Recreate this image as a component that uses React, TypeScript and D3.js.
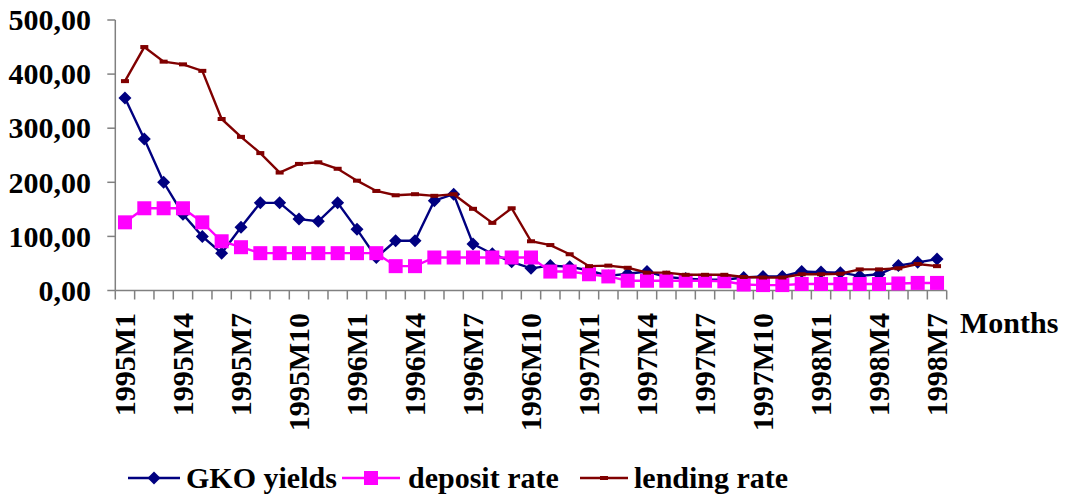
import React from "react";
import * as d3 from "d3";

const months: string[] = (() => {
  const out: string[] = [];
  const years = ["1995", "1996", "1997", "1998"];
  for (const y of years) {
    for (let m = 1; m <= 12; m++) {
      if (y === "1998" && m > 7) break;
      out.push(`${y}M${m}`);
    }
  }
  return out;
})();

const gkoYields = [356, 280, 200, 141, 100, 69, 117, 162, 162, 132, 128, 162, 113, 61, 92, 92,
  166, 178, 86, 68, 53, 41, 46, 44, 37, 27, 31, 35, 25, 22, 20, 20,
  24, 26, 26, 35, 34, 33, 27, 30, 46, 52, 58];
const depositRate = [126, 152, 152, 152, 126, 91, 80, 69, 69, 69, 69, 69, 69, 69, 45, 45,
  61, 61, 61, 61, 61, 61, 35, 35, 30, 26, 18, 18, 18, 18, 18, 17,
  11, 10, 10, 12, 12, 12, 12, 12, 13, 14, 14];
const lendingRate = [387, 450, 423, 418, 406, 317, 284, 254, 218, 234, 237, 225, 203, 184, 176, 178,
  175, 178, 151, 125, 152, 91, 84, 67, 45, 46, 42, 33, 33, 29, 29, 29,
  25, 24, 24, 30, 30, 31, 39, 39, 41, 49, 45];
const yTicks = [0, 100, 200, 300, 400, 500];
const seriesNames = ["GKO yields", "deposit rate", "lending rate"];

const FONT = "'Liberation Serif', 'Times New Roman', serif";

export default function App() {
  const width = 1065, height = 499;
  const x0 = 115.3, x1 = 946.7, yTop = 20, yBot = 290.5;
  const x = d3.scaleBand<number>().domain(months.map((_, i) => i)).range([x0, x1]).padding(0);
  const cx = (i: number) => (x(i) as number) + x.bandwidth() / 2;
  const y = d3.scaleLinear().domain([0, 500]).range([yBot, yTop]);
  const line = d3.line<number>().x((_, i) => cx(i)).y((d) => y(d));
  const fmt = (v: number) => v.toFixed(2).replace(".", ",");

  const diamond = (px: number, py: number, r: number) =>
    `M${px},${py - r}L${px + r},${py}L${px},${py + r}L${px - r},${py}Z`;

  const axisColor = "#808080";
  const navy = "#000080", magenta = "#FF00FF", maroon = "#800000";
  const fs = 30;

  const edges = d3.range(months.length + 1).map((i) => x0 + i * x.bandwidth());

  const legendY = 478;

  return (
    <svg width={width} height={height} style={{ position: "absolute", left: 0, top: 0, background: "#fff" }}
      fontFamily={FONT}>
      {/* y axis */}
      <line x1={x0} x2={x0} y1={yTop} y2={yBot} stroke={axisColor} strokeWidth={1.5} />
      {yTicks.map((t) => (
        <g key={t}>
          <line x1={x0 - 8} x2={x0} y1={y(t)} y2={y(t)} stroke={axisColor} strokeWidth={1.5} />
          <text x={91} y={y(t)} dy="0.34em" textAnchor="end" fontSize={fs} fontWeight="bold">{fmt(t)}</text>
        </g>
      ))}
      {/* x axis */}
      <line x1={x0} x2={x1} y1={yBot} y2={yBot} stroke={axisColor} strokeWidth={1.5} />
      {edges.map((e, i) => (
        <line key={i} x1={e} x2={e} y1={yBot} y2={yBot + 9} stroke={axisColor} strokeWidth={1.5} />
      ))}
      {months.map((m, i) => i % 3 === 0 ? (
        <text key={m} transform={`translate(${cx(i)},${313}) rotate(-90)`} dy="0.34em" textAnchor="end"
          fontSize={fs} fontWeight="bold">{m}</text>
      ) : null)}
      <text x={960} y={333} fontSize={fs} fontWeight="bold">Months</text>

      {/* GKO */}
      <path d={line(gkoYields) || ""} fill="none" stroke={navy} strokeWidth={2.4} />
      {gkoYields.map((v, i) => <path key={i} d={diamond(cx(i), y(v), 6.5)} fill={navy} />)}
      {/* deposit */}
      <path d={line(depositRate) || ""} fill="none" stroke={magenta} strokeWidth={2.4} />
      {depositRate.map((v, i) => <rect key={i} x={cx(i) - 7} y={y(v) - 7} width={14} height={14} fill={magenta} />)}
      {/* lending */}
      <path d={line(lendingRate) || ""} fill="none" stroke={maroon} strokeWidth={2.4} />
      {lendingRate.map((v, i) => <rect key={i} x={cx(i) - 4} y={y(v) - 2} width={8} height={4} fill={maroon} />)}

      {/* legend */}
      <g>
        <line x1={128} x2={180} y1={legendY} y2={legendY} stroke={navy} strokeWidth={2.4} />
        <path d={diamond(154, legendY, 6.5)} fill={navy} />
        <text x={186} y={legendY} dy="0.34em" fontSize={fs} fontWeight="bold">{seriesNames[0]}</text>
        <line x1={342} x2={400} y1={legendY} y2={legendY} stroke={magenta} strokeWidth={2.4} />
        <rect x={364} y={legendY - 7} width={14} height={14} fill={magenta} />
        <text x={408} y={legendY} dy="0.34em" fontSize={fs} fontWeight="bold">{seriesNames[1]}</text>
        <line x1={580} x2={628} y1={legendY} y2={legendY} stroke={maroon} strokeWidth={2.4} />
        <rect x={600} y={legendY - 2} width={8} height={4} fill={maroon} />
        <text x={634} y={legendY} dy="0.34em" fontSize={fs} fontWeight="bold">{seriesNames[2]}</text>
      </g>
    </svg>
  );
}
